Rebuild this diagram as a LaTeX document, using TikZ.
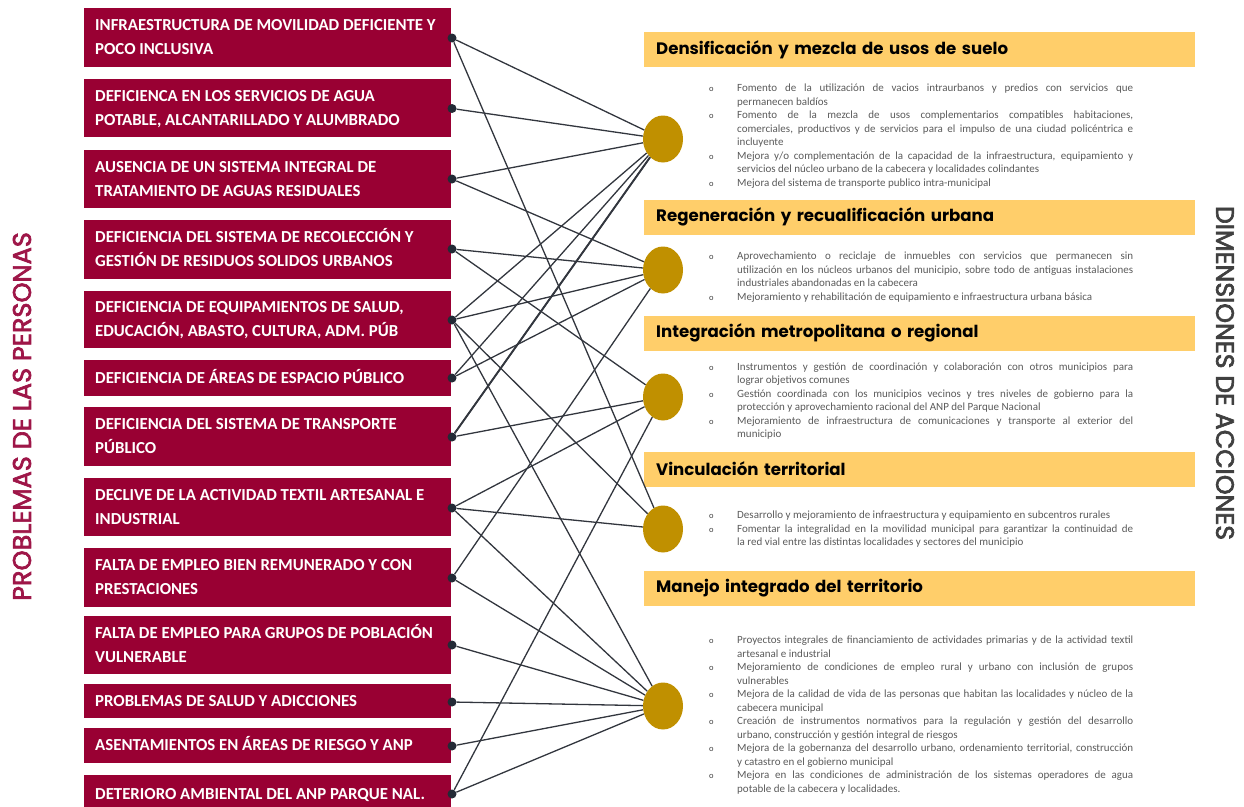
\documentclass[tikz,border=0pt]{standalone}
\usepackage{fontspec}
\setmainfont{Carlito}
\newfontfamily\pop{Poppins}
\newfontfamily\popt{Poppins}[FakeBold=2.6]
\usetikzlibrary{shapes.geometric}
\definecolor{crim}{RGB}{153,0,51}
\definecolor{titc}{RGB}{158,22,72}
\definecolor{gold}{RGB}{192,144,0}
\definecolor{ybar}{RGB}{255,206,106}
\definecolor{dotc}{RGB}{35,42,54}
\definecolor{linec}{RGB}{50,54,62}
\definecolor{txtg}{RGB}{90,90,90}
\definecolor{titg}{RGB}{64,64,64}
\newcommand\twol[2]{\vtop{\baselineskip=24pt\hbox{#1}\hbox{#2}}}
\newcommand\bulc{{\fontsize{8.5}{8.5}\selectfont\color{titg}o}}
\newcommand\blj[1]{\hbox{\makebox[28pt][l]{\bulc}\makebox[396pt][s]{#1}}}
\newcommand\blf[1]{\hbox{\makebox[28pt][l]{\bulc}#1}}
\newcommand\cnj[1]{\hbox{\hspace*{28pt}\makebox[396pt][s]{#1}}}
\newcommand\cnf[1]{\hbox{\hspace*{28pt}#1}}
\newcommand\para[1]{\vtop{\baselineskip=13.5pt\lineskiplimit=-5pt #1}}
\begin{document}
\begin{tikzpicture}[x=1pt,y=-1pt,
  probbox/.style={fill=crim, draw=none, minimum width=367pt, inner sep=0pt, anchor=west},
  probtxt/.style={anchor=base west, inner sep=0pt, text=white, font=\fontsize{16.8}{24}\selectfont\bfseries},
  dotn/.style={circle, fill=dotc, draw=none, minimum size=9pt, inner sep=0pt},
  circn/.style={ellipse, fill=gold, draw=none, minimum width=40pt, minimum height=47pt, inner sep=0pt},
  hdr/.style={fill=ybar, draw=none, anchor=west, minimum width=551pt, minimum height=35pt, text width=527pt, inner xsep=12pt, inner ysep=0pt, align=left, text=black, font=\pop\bfseries\fontsize{16.6}{18}\selectfont},
  bpara/.style={anchor=base west, inner sep=0pt, text=txtg, font=\fontsize{11}{13.5}\selectfont},
  conn/.style={draw=linec, line width=1.3pt},
  ]
\useasboundingbox (0,0) rectangle (1244,806);

% titles
\node[rotate=90, text=titc, font=\popt\fontsize{25.6}{26}\selectfont] (tl) at (22,416.5) {PROBLEMAS DE LAS PERSONAS};
\node[rotate=-90, text=titg, font=\popt\fontsize{25.2}{26}\selectfont] (tr) at (1225,373) {DIMENSIONES DE ACCIONES};

% problem boxes
\node[probbox, minimum height=59pt] (b1) at (84,37.5) {};
\node[probtxt] (b1t) at (95,30.9) {\twol{INFRAESTRUCTURA DE MOVILIDAD DEFICIENTE Y}{POCO INCLUSIVA}};
\node[probbox, minimum height=58pt] (b2) at (84,108) {};
\node[probtxt] (b2t) at (95,101.4) {\twol{DEFICIENCA EN LOS SERVICIOS DE AGUA}{POTABLE, ALCANTARILLADO Y ALUMBRADO}};
\node[probbox, minimum height=58pt] (b3) at (84,179) {};
\node[probtxt] (b3t) at (95,172.4) {\twol{AUSENCIA DE UN SISTEMA INTEGRAL DE}{TRATAMIENTO DE AGUAS RESIDUALES}};
\node[probbox, minimum height=59pt] (b4) at (84,249.5) {};
\node[probtxt] (b4t) at (95,242.9) {\twol{DEFICIENCIA DEL SISTEMA DE RECOLECCIÓN Y}{GESTIÓN DE RESIDUOS SOLIDOS URBANOS}};
\node[probbox, minimum height=57pt] (b5) at (84,319.5) {};
\node[probtxt] (b5t) at (95,312.9) {\twol{DEFICIENCIA DE EQUIPAMIENTOS DE SALUD,}{EDUCACIÓN, ABASTO, CULTURA, ADM. PÚB}};
\node[probbox, minimum height=36pt] (b6) at (84,378) {};
\node[probtxt] (b6t) at (95,383.4) {DEFICIENCIA DE ÁREAS DE ESPACIO PÚBLICO};
\node[probbox, minimum height=59pt] (b7) at (84,436.5) {};
\node[probtxt] (b7t) at (95,429.9) {\twol{DEFICIENCIA DEL SISTEMA DE TRANSPORTE}{PÚBLICO}};
\node[probbox, minimum height=58pt] (b8) at (84,507) {};
\node[probtxt] (b8t) at (95,500.4) {\twol{DECLIVE DE LA ACTIVIDAD TEXTIL ARTESANAL E}{INDUSTRIAL}};
\node[probbox, minimum height=59pt] (b9) at (84,577.5) {};
\node[probtxt] (b9t) at (95,570.9) {\twol{FALTA DE EMPLEO BIEN REMUNERADO Y CON}{PRESTACIONES}};
\node[probbox, minimum height=58pt] (b10) at (84,645) {};
\node[probtxt] (b10t) at (95,638.4) {\twol{FALTA DE EMPLEO PARA GRUPOS DE POBLACIÓN}{VULNERABLE}};
\node[probbox, minimum height=34pt] (b11) at (84,701) {};
\node[probtxt] (b11t) at (95,706.4) {PROBLEMAS DE SALUD Y ADICCIONES};
\node[probbox, minimum height=35pt] (b12) at (84,745.5) {};
\node[probtxt] (b12t) at (95,750.9) {ASENTAMIENTOS EN ÁREAS DE RIESGO Y ANP};
\node[probbox, minimum height=36pt] (b13) at (84,793) {};
\node[probtxt] (b13t) at (95,799.4) {DETERIORO AMBIENTAL DEL ANP PARQUE NAL.};

% dots
\node[dotn] (d1) at (452,38) {};
\node[dotn] (d2) at (452,108.5) {};
\node[dotn] (d3) at (452,179) {};
\node[dotn] (d4) at (452,249) {};
\node[dotn] (d5) at (452,320) {};
\node[dotn] (d6) at (452,378) {};
\node[dotn] (d7) at (452,437) {};
\node[dotn] (d8) at (452,508) {};
\node[dotn] (d9) at (452,578) {};
\node[dotn] (d10) at (452,645) {};
\node[dotn] (d11) at (452,702) {};
\node[dotn] (d12) at (452,746) {};
\node[dotn] (d13) at (452,794) {};

% headers
\node[hdr] (h1) at (644,49.5) {Densificación y mezcla de usos de suelo};
\node[hdr] (h2) at (644,217) {Regeneración y recualificación urbana};
\node[hdr] (h3) at (644,333) {Integración metropolitana o regional};
\node[hdr] (h4) at (644,469) {Vinculación territorial};
\node[hdr] (h5) at (644,588) {Manejo integrado del territorio};

% circles
\node[circn] (c1) at (663,139) {};
\node[circn] (c2) at (663,270) {};
\node[circn] (c3) at (663,397) {};
\node[circn] (c4) at (663,529) {};
\node[circn] (c5) at (663,706) {};

% connectors
\foreach \d in {d1,d2,d3,d5,d6,d7} \draw[conn] (\d) -- (c1);
\draw[conn, line width=1.9pt] (d7) -- (c1);
\foreach \d in {d3,d4,d5,d6,d9} \draw[conn] (\d) -- (c2);
\foreach \d in {d4,d7,d8,d13} \draw[conn] (\d) -- (c3);
\foreach \d in {d1,d5,d8} \draw[conn] (\d) -- (c4);
\foreach \d in {d5,d8,d9,d10,d11,d12,d13} \draw[conn] (\d) -- (c5);

% action texts
\node[bpara] (p1) at (709,91.5) {\para{%
\blj{Fomento de la utilización de vacios intraurbanos y predios con servicios que}
\cnf{permanecen baldíos}
\blj{Fomento de la mezcla de usos complementarios compatibles habitaciones,}
\cnj{comerciales, productivos y de servicios para el impulso de una ciudad policéntrica e}
\cnf{incluyente}
\blj{Mejora y/o complementación de la capacidad de la infraestructura, equipamiento y}
\cnf{servicios del núcleo urbano de la cabecera y localidades colindantes}
\blf{Mejora del sistema de transporte publico intra-municipal}}};

\node[bpara] (p2) at (709,259.5) {\para{%
\blj{Aprovechamiento o reciclaje de inmuebles con servicios que permanecen sin}
\cnj{utilización en los núcleos urbanos del municipio, sobre todo de antiguas instalaciones}
\cnf{industriales abandonadas en la cabecera}
\blf{Mejoramiento y rehabilitación de equipamiento e infraestructura urbana básica}}};

\node[bpara] (p3) at (709,370) {\para{%
\blj{Instrumentos y gestión de coordinación y colaboración con otros municipios para}
\cnf{lograr objetivos comunes}
\blj{Gestión coordinada con los municipios vecinos y tres niveles de gobierno para la}
\cnf{protección y aprovechamiento racional del ANP del Parque Nacional}
\blj{Mejoramiento de infraestructura de comunicaciones y transporte al exterior del}
\cnf{municipio}}};

\node[bpara] (p4) at (709,518.5) {\para{%
\blf{Desarrollo y mejoramiento de infraestructura y equipamiento en subcentros rurales}
\blj{Fomentar la integralidad en la movilidad municipal para garantizar la continuidad de}
\cnf{la red vial entre las distintas localidades y sectores del municipio}}};

\node[bpara] (p5) at (709,643.5) {\para{%
\blj{Proyectos integrales de financiamiento de actividades primarias y de la actividad textil}
\cnf{artesanal e industrial}
\blj{Mejoramiento de condiciones de empleo rural y urbano con inclusión de grupos}
\cnf{vulnerables}
\blj{Mejora de la calidad de vida de las personas que habitan las localidades y núcleo de la}
\cnf{cabecera municipal}
\blj{Creación de instrumentos normativos para la regulación y gestión del desarrollo}
\cnf{urbano, construcción y gestión integral de riesgos}
\blj{Mejora de la gobernanza del desarrollo urbano, ordenamiento territorial, construcción}
\cnf{y catastro en el gobierno municipal}
\blj{Mejora en las condiciones de administración de los sistemas operadores de agua}
\cnf{potable de la cabecera y localidades.}}};
\end{tikzpicture}
\end{document}
